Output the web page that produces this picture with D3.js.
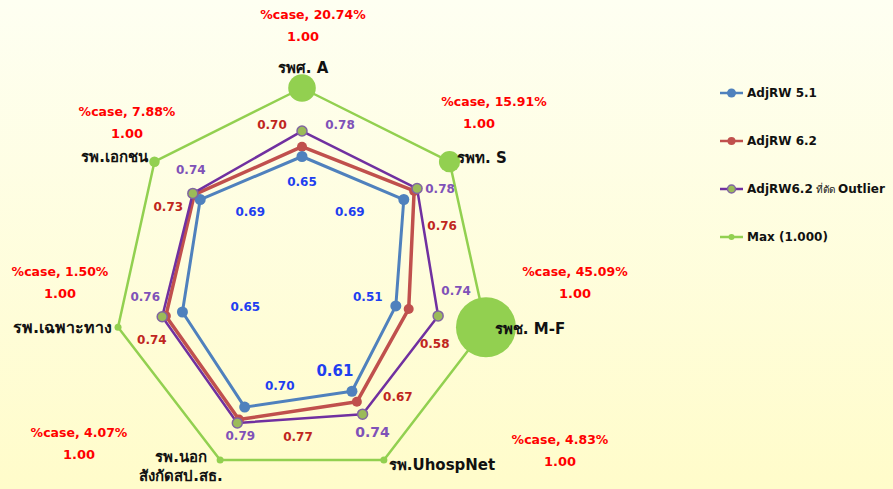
<!DOCTYPE html>
<html>
<head>
<meta charset="utf-8">
<script src="https://cdn.jsdelivr.net/npm/d3@7"></script>
<style>
body { margin: 0; padding: 0; }
svg text { font-family: Tahoma, "DejaVu Sans", "Noto Sans", sans-serif; font-weight: bold; }
</style>
</head>
<body>
<div id="chart"></div>
<script>
// categories (clockwise from top)
var categories = ["รพศ. A", "รพท. S", "รพช. M-F", "รพ.UhospNet", "รพ.นอก|สังกัดสป.สธ.", "รพ.เฉพาะทาง", "รพ.เอกชน"];
var pctCase = [20.74, 15.91, 45.09, 4.83, 4.07, 1.50, 7.88];
var adjrw51 = [0.65, 0.69, 0.51, 0.61, 0.70, 0.65, 0.69];
var adjrw62 = [0.70, 0.76, 0.58, 0.67, 0.77, 0.74, 0.73];
var adjrw62out = [0.78, 0.78, 0.74, 0.74, 0.79, 0.76, 0.74];
var maxVals = [1, 1, 1, 1, 1, 1, 1];
var seriesNames = ["AdjRW 5.1", "AdjRW 6.2", "AdjRW6.2|ที่ตัด|Outlier", "Max (1.000)"];

var width = 893, height = 489;
var cx = 302, cy = 283.7;

var svg = d3.select("#chart").append("svg")
    .attr("width", width)
    .attr("height", height);

var defs = svg.append("defs");
var grad = defs.append("linearGradient").attr("id", "bg")
    .attr("x1", 0).attr("y1", 0).attr("x2", 0).attr("y2", 1);
grad.append("stop").attr("offset", "0%").attr("stop-color", "#fefff2");
grad.append("stop").attr("offset", "100%").attr("stop-color", "#fffcca");
svg.append("rect").attr("width", width).attr("height", height).attr("fill", "url(#bg)");

// radial scales (chart is slightly squashed horizontally)
var rx = d3.scaleLinear().domain([0, 1]).range([0, 188.7]);
var ry = d3.scaleLinear().domain([0, 1]).range([0, 195.7]);
var angle = d3.scaleLinear().domain([0, categories.length]).range([-Math.PI / 2, 1.5 * Math.PI]);
var bubble = d3.scaleLinear().domain([0, d3.max(pctCase)]).range([0, 30]);

function pt(v, i) {
    var a = angle(i);
    return [cx + rx(v) * Math.cos(a), cy + ry(v) * Math.sin(a)];
}

var line = d3.line().curve(d3.curveLinearClosed);

var series = [
    { name: seriesNames[3], values: maxVals, color: "#92d050", width: 2.5 },
    { name: seriesNames[1], values: adjrw62, color: "#c0504d", width: 3.5 },
    { name: seriesNames[0], values: adjrw51, color: "#4f81bd", width: 3 },
    { name: seriesNames[2], values: adjrw62out, color: "#7030a0", width: 2.5 }
];

series.forEach(function(s) {
    svg.append("path")
        .datum(s.values.map(pt))
        .attr("d", line)
        .attr("fill", "none")
        .attr("stroke", s.color)
        .attr("stroke-width", s.width)
        .attr("stroke-linejoin", "round");
});

// markers
svg.append("g").selectAll("circle").data(maxVals).enter().append("circle")
    .attr("cx", function(d, i) { return pt(d, i)[0]; })
    .attr("cy", function(d, i) { return pt(d, i)[1]; })
    .attr("r", function(d, i) { return Math.max(3.5, bubble(pctCase[i])); })
    .attr("fill", "#92d050");

svg.append("g").selectAll("circle").data(adjrw62).enter().append("circle")
    .attr("cx", function(d, i) { return pt(d, i)[0]; })
    .attr("cy", function(d, i) { return pt(d, i)[1]; })
    .attr("r", 5).attr("fill", "#c0504d");

svg.append("g").selectAll("circle").data(adjrw51).enter().append("circle")
    .attr("cx", function(d, i) { return pt(d, i)[0]; })
    .attr("cy", function(d, i) { return pt(d, i)[1]; })
    .attr("r", 5.5).attr("fill", "#4f81bd");

svg.append("g").selectAll("circle").data(adjrw62out).enter().append("circle")
    .attr("cx", function(d, i) { return pt(d, i)[0]; })
    .attr("cy", function(d, i) { return pt(d, i)[1]; })
    .attr("r", 5).attr("fill", "#9bbb59")
    .attr("stroke", "#8064a2").attr("stroke-width", 1.5);

// data label offsets
var off51 = [[0, 25], [-54, 12], [-28, -9], [-17, -21], [35, -21], [63, -5], [50, 12]];
var off62 = [[-30, -22], [28, 35], [26, 35], [41, -5], [59, 17], [-14, 24], [-26, 12]];
var offOut = [[38, -6], [23, 0], [18, -25], [10, 18], [3, 13], [-17, -20], [-2, -24]];

function dataLabels(vals, offs, color, sizes) {
    svg.append("g").selectAll("text").data(vals).enter().append("text")
        .attr("x", function(d, i) { return pt(d, i)[0] + offs[i][0]; })
        .attr("y", function(d, i) { return pt(d, i)[1] + offs[i][1]; })
        .attr("dy", "0.35em")
        .attr("text-anchor", "middle")
        .attr("fill", color)
        .style("font-size", function(d, i) { return (sizes && sizes[i]) ? sizes[i] : "12px"; })
        .text(function(d) { return d3.format(".2f")(d); });
}
dataLabels(adjrw51, off51, "#1f3ff0", [null, null, null, "15px", null, null, null]);
dataLabels(adjrw62, off62, "#c0261e");
dataLabels(adjrw62out, offOut, "#7f52b8", [null, null, null, "14px", null, null, null]);

// category labels
var catPos = [[303, 68, "middle"], [457, 158, "start"], [530, 329, "middle"], [442, 465, "middle"],
              [181, 457, "middle"], [112, 327, "end"], [148, 157, "end"]];
var casePos = [[313, 15], [494, 102], [575, 272], [560, 440], [79, 433], [60, 272], [127, 112]];
var oneShift = [-10, -15, 0, 0, 0, 0, 0];

categories.forEach(function(c, i) {
    var lines = c.split("|");
    var t = svg.append("text")
        .attr("x", catPos[i][0])
        .attr("y", catPos[i][1])
        .attr("text-anchor", catPos[i][2])
        .attr("fill", "#111")
        .style("font-size", i === 5 ? "16px" : "15px");
    lines.forEach(function(l, j) {
        t.append("tspan").attr("x", catPos[i][0]).attr("dy", j === 0 ? "0.35em" : "1.25em").text(l);
    });

    svg.append("text")
        .attr("x", casePos[i][0]).attr("y", casePos[i][1])
        .attr("dy", "0.35em").attr("text-anchor", "middle")
        .attr("fill", "#ff0000").style("font-size", "12.5px")
        .text("%case, " + d3.format(".2f")(pctCase[i]) + "%");
    svg.append("text")
        .attr("x", casePos[i][0] + oneShift[i]).attr("y", casePos[i][1] + 21)
        .attr("dy", "0.35em").attr("text-anchor", "middle")
        .attr("fill", "#ff0000").style("font-size", "13px")
        .text(d3.format(".2f")(maxVals[i]));
});

// legend
var legendItems = [
    { name: seriesNames[0], color: "#4f81bd", fill: "#4f81bd", stroke: "none", r: 4.5 },
    { name: seriesNames[1], color: "#c0504d", fill: "#c0504d", stroke: "none", r: 4 },
    { name: seriesNames[2], color: "#7030a0", fill: "#9bbb59", stroke: "#8064a2", r: 4 },
    { name: seriesNames[3], color: "#92d050", fill: "#92d050", stroke: "none", r: 3 }
];
var legend = svg.append("g").attr("transform", "translate(720,93)");
var li = legend.selectAll("g").data(legendItems).enter().append("g")
    .attr("transform", function(d, i) { return "translate(0," + (i * 48) + ")"; });
li.append("line").attr("x1", 0).attr("x2", 23).attr("y1", 0).attr("y2", 0)
    .attr("stroke", function(d) { return d.color; }).attr("stroke-width", 2.5);
li.append("circle").attr("cx", 11.5).attr("cy", 0).attr("r", function(d) { return d.r; })
    .attr("fill", function(d) { return d.fill; })
    .attr("stroke", function(d) { return d.stroke; }).attr("stroke-width", 1.5);
li.append("text").attr("x", 27).attr("dy", "0.35em").attr("fill", "#111")
    .style("font-size", "12px")
    .each(function(d) {
        var parts = d.name.split("|");
        var el = d3.select(this);
        el.append("tspan").text(parts[0]);
        if (parts.length > 1) {
            el.append("tspan").style("font-size", "10px").style("font-weight", "normal").text(" " + parts[1] + " ");
            el.append("tspan").text(parts[2]);
        }
    });
</script>
</body>
</html>
